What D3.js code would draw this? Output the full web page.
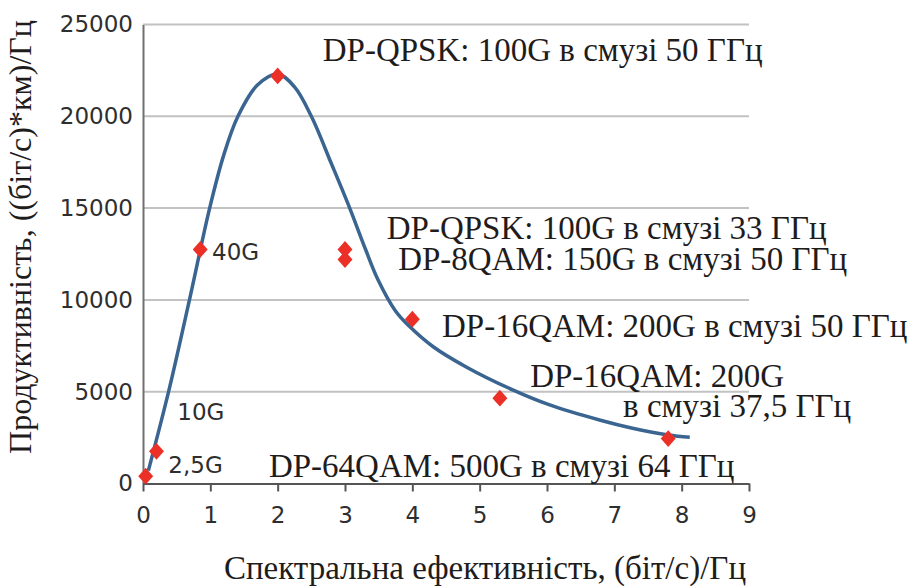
<!DOCTYPE html>
<html>
<head>
<meta charset="utf-8">
<script src="https://cdn.jsdelivr.net/npm/d3@7"></script>
<style>
  html, body { margin: 0; padding: 0; background: #fff; }
  svg { display: block; }
</style>
</head>
<body>
<svg id="chart" width="911" height="586"></svg>
<script>
// ---- data ----
const xTicks = [0, 1, 2, 3, 4, 5, 6, 7, 8, 9];
const yTicks = [0, 5000, 10000, 15000, 20000, 25000];

// fitted curve
const curveX = [0.08, 0.38, 0.69, 0.99, 1.2, 1.41, 1.7, 2.0, 2.25, 2.5, 2.8, 3.07, 3.3, 3.49, 3.75, 3.96, 4.31, 4.8, 5.49, 6.04, 6.78, 7.27, 7.8, 8.12];
const curveY = [700, 5000, 10000, 15000, 17900, 20000, 21700, 22300, 21600, 20000, 17400, 15000, 12800, 11100, 9400, 8550, 7450, 6350, 5100, 4280, 3460, 3010, 2640, 2520];

// measured points (red diamonds)
const pointX = [0.04, 0.2, 0.85, 2.0, 3.0, 3.0, 4.0, 5.3, 7.8];
const pointY = [400, 1750, 12750, 22200, 12750, 12200, 8950, 4650, 2450];

// annotation texts
const noteTexts = [
  "DP-QPSK: 100G в смузі 50 ГГц",
  "DP-QPSK: 100G в смузі 33 ГГц",
  "DP-8QAM: 150G в смузі 50 ГГц",
  "DP-16QAM: 200G в смузі 50 ГГц",
  "DP-16QAM: 200G",
  "в смузі 37,5 ГГц",
  "DP-64QAM: 500G в смузі 64 ГГц"
];
const rateTexts = ["40G", "10G", "2,5G"];

const xTitle = "Спектральна ефективність, (біт/с)/Гц";
const yTitle = "Продуктивність, ((біт/с)*км)/Гц";

// ---- layout (positions in data units, separate from the data) ----
const notePos = [[2.67, 23010], [3.62, 13315], [3.79, 11627], [4.44, 7978], [5.75, 5239], [7.13, 3638], [1.87, 338]];
const ratePos = [[1.025, 12172], [0.51, 3458], [0.376, 556]];

const svg = d3.select("#chart");
const x = d3.scaleLinear().domain([0, 9]).range([143, 749]);
const y = d3.scaleLinear().domain([0, 25000]).range([483.5, 24.5]);

// gridlines
svg.append("g")
  .selectAll("line")
  .data(yTicks.filter(d => d > 0))
  .join("line")
  .attr("x1", x(0)).attr("x2", x(9))
  .attr("y1", d => y(d)).attr("y2", d => y(d))
  .attr("stroke", "#c2c2c2").attr("stroke-width", 2);

// y axis
const yAxis = svg.append("g")
  .attr("transform", `translate(${x(0)},0)`)
  .call(d3.axisLeft(y).tickValues(yTicks).tickSize(0).tickPadding(10).tickFormat(d3.format("d")));
yAxis.select(".domain").attr("stroke", "#707070").attr("stroke-width", 2);
yAxis.selectAll("text")
  .attr("font-family", "DejaVu Sans").attr("font-size", 23).attr("fill", "#2e2e2e");

// x axis
const xAxis = svg.append("g")
  .attr("transform", `translate(0,${y(0)})`)
  .call(d3.axisBottom(x).tickValues(xTicks).tickSize(8).tickSizeOuter(0).tickPadding(15).tickFormat(d3.format("d")));
xAxis.select(".domain").attr("stroke", "#555").attr("stroke-width", 2);
xAxis.selectAll(".tick line").attr("stroke", "#555").attr("stroke-width", 2);
xAxis.selectAll("text")
  .attr("font-family", "DejaVu Sans").attr("font-size", 23).attr("fill", "#2e2e2e");

// curve
const curveData = curveX.map((v, i) => [v, curveY[i]]);
svg.append("path")
  .datum(curveData)
  .attr("d", d3.line().x(d => x(d[0])).y(d => y(d[1])).curve(d3.curveCatmullRom.alpha(0.5)))
  .attr("fill", "none")
  .attr("stroke", "#3a6591")
  .attr("stroke-width", 3.5)
  .attr("stroke-linecap", "butt");

// markers
const pts = pointX.map((v, i) => [v, pointY[i]]);
svg.append("g")
  .selectAll("path")
  .data(pts)
  .join("path")
  .attr("d", d3.symbol(d3.symbolSquare, 112))
  .attr("transform", d => `translate(${x(d[0])},${y(d[1])}) scale(1,1.12) rotate(45)`)
  .attr("fill", "#ec3027");

// rate labels
svg.append("g")
  .selectAll("text")
  .data(rateTexts)
  .join("text")
  .attr("x", (d, i) => x(ratePos[i][0]))
  .attr("y", (d, i) => y(ratePos[i][1]))
  .attr("font-family", "DejaVu Sans")
  .attr("font-size", 23)
  .attr("fill", "#2e2e2e")
  .text(d => d);

// annotations
svg.append("g")
  .selectAll("text")
  .data(noteTexts)
  .join("text")
  .attr("x", (d, i) => x(notePos[i][0]))
  .attr("y", (d, i) => y(notePos[i][1]))
  .attr("font-family", "Liberation Serif")
  .attr("font-size", 33)
  .attr("fill", "#1f1c1c")
  .text(d => d);

// axis titles
svg.append("text")
  .attr("x", 485).attr("y", 579)
  .attr("text-anchor", "middle")
  .attr("font-family", "Liberation Serif")
  .attr("font-size", 33)
  .attr("fill", "#1f1c1c")
  .text(xTitle);

svg.append("text")
  .attr("transform", "translate(31,237) rotate(-90)")
  .attr("text-anchor", "middle")
  .attr("font-family", "Liberation Serif")
  .attr("font-size", 32)
  .attr("fill", "#1f1c1c")
  .text(yTitle);
</script>
</body>
</html>
